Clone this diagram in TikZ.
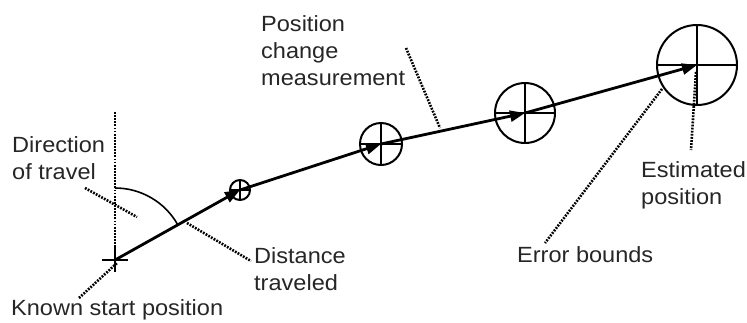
\documentclass[tikz,border=0pt]{standalone}
\usepackage{fontspec}
\setmainfont{Liberation Sans}[FakeStretch=1.07]
\usetikzlibrary{arrows.meta}
\tikzset{
  errcircle/.style={circle, draw, line width=2pt, fill=white, inner sep=0pt,
    path picture={
      \draw[line width=2pt] (path picture bounding box.north) -- (path picture bounding box.south);
      \draw[line width=2pt] (path picture bounding box.west) -- (path picture bounding box.east);
    }},
  travel/.style={line width=2.8pt, -{Triangle[length=15pt,width=11pt]}},
  leader/.style={line width=2.6pt, dash pattern=on 1.8pt off 1.3pt},
  lbl/.style={inner sep=0pt, align=left, anchor=base west,
    font=\fontsize{22pt}{27pt}\selectfont, text=black!85},
}
\begin{document}
\begin{tikzpicture}[x=1pt,y=-1pt]
\useasboundingbox (0,0) rectangle (747,322);
% positions
\coordinate (p0) at (115,260);
\node[errcircle, minimum size=20pt] (c1) at (240,190) {};
\node[errcircle, minimum size=42pt] (c2) at (381,144) {};
\node[errcircle, minimum size=60pt] (c3) at (525,113) {};
\node[errcircle, minimum size=80pt] (c4) at (697,65) {};
% start cross
\coordinate (hx1) at (102,260);
\coordinate (hx2) at (128,260);
\coordinate (vx1) at (115,247);
\coordinate (vx2) at (115,272);
\draw[line width=2pt] (hx1) -- (hx2);
\draw[line width=2pt] (vx1) -- (vx2);
% direction reference line and angle arc
\coordinate (vtop) at (115,112);
\coordinate (vbot) at (115,250);
\draw[leader] (vtop) -- (vbot);
\coordinate (arcstart) at (115,188);
\draw[line width=1.6pt] (arcstart) arc[start angle=90, end angle=29.25, radius=72pt];
% travel arrows
\draw[travel] (p0) -- (c1.center);
\draw[travel] (c1.center) -- (c2.center);
\draw[travel] (c2.center) -- (c3.center);
\draw[travel] (c3.center) -- (c4.center);
% labels (anchor at baseline of last line)
\node[lbl] (tdir) at (12,179.5) {Direction\\of travel};
\node[lbl] (tknown) at (11,315) {Known start position};
\node[lbl] (tdist) at (254,290) {Distance\\traveled};
\node[lbl] (tpos) at (261,85) {Position\\change\\measurement};
\node[lbl] (terr) at (517,262.5) {Error bounds};
\node[lbl] (test) at (641,204) {Estimated\\position};
% leaders
\coordinate (ld1a) at (85,188);  \coordinate (ld1b) at (137,217);
\coordinate (ld2a) at (187,223); \coordinate (ld2b) at (251,261);
\coordinate (ld3a) at (79,298);  \coordinate (ld3b) at (117,263);
\coordinate (ld4a) at (406,48);  \coordinate (ld4b) at (440,128);
\coordinate (ld5a) at (662,89);  \coordinate (ld5b) at (545,243);
\coordinate (ld6a) at (696,72);  \coordinate (ld6b) at (691,150);
\draw[leader] (ld1a) -- (ld1b);
\draw[leader] (ld2a) -- (ld2b);
\draw[leader] (ld3a) -- (ld3b);
\draw[leader] (ld4a) -- (ld4b);
\draw[leader] (ld5a) -- (ld5b);
\draw[leader] (ld6a) -- (ld6b);
\end{tikzpicture}
\end{document}
